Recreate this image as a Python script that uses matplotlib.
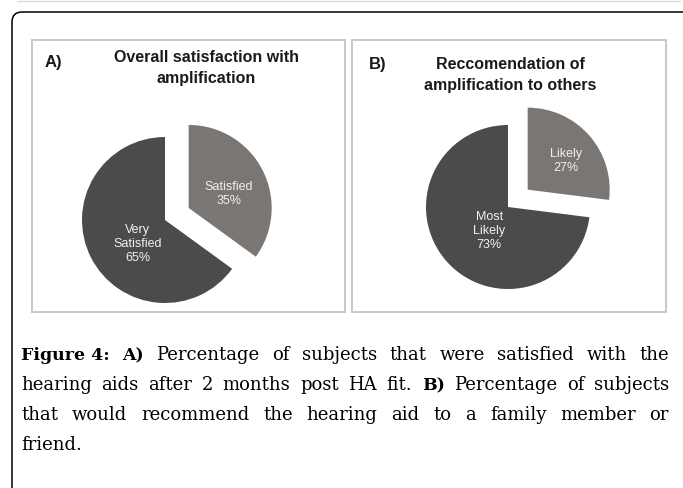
import matplotlib

matplotlib.use("Agg")
import matplotlib.pyplot as plt
from matplotlib.patches import FancyBboxPatch, Rectangle
import numpy as np

W, H = 683, 488

# data
labels_a = ["Satisfied\n35%", "Very\nSatisfied\n65%"]
values_a = [35, 65]
labels_b = ["Likely\n27%", "Most\nLikely\n73%"]
values_b = [27, 73]
title_a = ["Overall satisfaction with", "amplification"]
title_b = ["Reccomendation of", "amplification to others"]
panel_tags = ["A)", "B)"]
caption_lines = [
    [("Figure 4:", True), ("A)", True), ("Percentage", False), ("of", False), ("subjects", False),
     ("that", False), ("were", False), ("satisfied", False), ("with", False), ("the", False)],
    [("hearing", False), ("aids", False), ("after", False), ("2", False), ("months", False),
     ("post", False), ("HA", False), ("fit.", False), ("B)", True), ("Percentage", False),
     ("of", False), ("subjects", False)],
    [("that", False), ("would", False), ("recommend", False), ("the", False), ("hearing", False),
     ("aid", False), ("to", False), ("a", False), ("family", False), ("member", False), ("or", False)],
    [("friend.", False)],
]

colors = ["#7a7674", "#4b4b4b"]

fig = plt.figure(figsize=(W / 100, H / 100), dpi=100)
bg = fig.add_axes([0, 0, 1, 1])
bg.set_xlim(0, W)
bg.set_ylim(H, 0)
bg.axis("off")

# page frame
bg.plot([18, 680], [1, 1], color="#d9d9d9", lw=1.0)
bg.add_patch(FancyBboxPatch((12, 12), 680, 500, boxstyle="round,pad=0,rounding_size=10",
                            fc="none", ec="black", lw=1.1))

# panel boxes
for x0, x1 in [(32, 345), (352, 666)]:
    bg.add_patch(Rectangle((x0, 40), x1 - x0, 272, fc="none", ec="#c8c8c8", lw=1.4))

tag_kw = dict(fontsize=12, fontweight="bold", family="Liberation Sans", color="#1a1a1a",
              ha="left", va="center")
bg.text(45, 63, panel_tags[0], **tag_kw)
bg.text(369, 65, panel_tags[1], **tag_kw)

title_kw = dict(fontsize=11.5, fontweight="bold", family="Liberation Sans", color="#1a1a1a",
                ha="center", va="baseline")
for i, line in enumerate(title_a):
    bg.text(206, 62 + 21 * i, line, **title_kw)
for i, line in enumerate(title_b):
    bg.text(510, 69 + 21 * i, line, **title_kw)


def draw_pie(cx, cy, r, values, labels, label_pos):
    ax = fig.add_axes([(cx - 1.5 * r) / W, (H - cy - 1.5 * r) / H, 3 * r / W, 3 * r / H])
    wedges, _ = ax.pie(values, colors=colors, startangle=90, counterclock=False,
                       explode=[0.32, 0], wedgeprops=dict(linewidth=0))
    ax.set_xlim(-1.5, 1.5)
    ax.set_ylim(-1.5, 1.5)
    ax.axis("off")
    for w, lab, (d, ang) in zip(wedges, labels, label_pos):
        vx, vy = w.center
        a = np.deg2rad(ang)
        ax.text(vx + d * np.cos(a), vy + d * np.sin(a), lab, ha="center", va="center",
                fontsize=9, family="Liberation Sans", color="#f0f0f0", linespacing=1.25)


draw_pie(165, 220, 83, values_a, labels_a, [(0.51, 19), (0.44, -139)])
draw_pie(508, 207, 82, values_b, labels_b, [(0.58, 37), (0.37, -128)])

# justified caption
renderer = fig.canvas.get_renderer()


def cap_style(bold):
    if bold:
        return dict(fontsize=12.5, family="DejaVu Serif", fontweight="bold", color="black")
    return dict(fontsize=13, family="DejaVu Serif", fontweight="normal", color="black")


def text_w(s, bold):
    t = bg.text(0, 0, s, **cap_style(bold))
    wd = t.get_window_extent(renderer).width
    t.remove()
    return wd


space_w = text_w("a a", False) - text_w("aa", False)
left, right = 21, 669
y0, dy = 360, 30
for i, line in enumerate(caption_lines):
    widths = [text_w(s, b) for s, b in line]
    if i < len(caption_lines) - 1:
        gap = (right - left - sum(widths)) / (len(line) - 1)
    else:
        gap = space_w
    x = left
    for (s, b), wd in zip(line, widths):
        bg.text(x, y0 + i * dy, s, ha="left", va="baseline", **cap_style(b))
        x += wd + gap

fig.savefig("out.png", dpi=100)
